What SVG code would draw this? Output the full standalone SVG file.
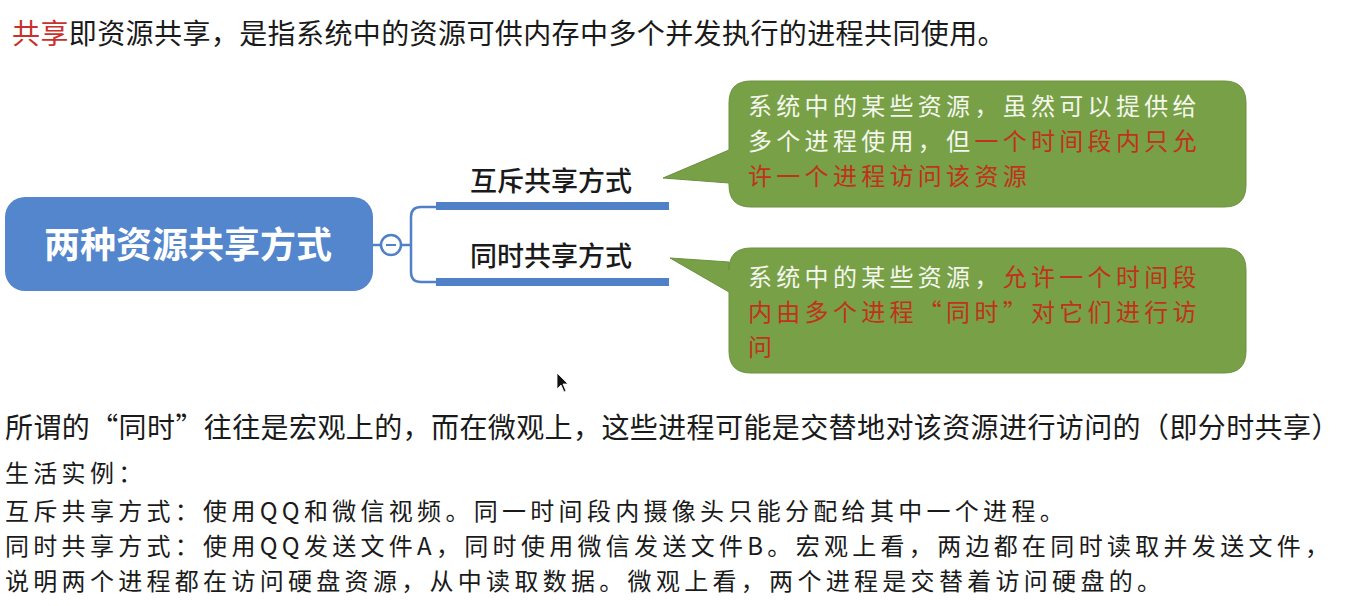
<svg xmlns="http://www.w3.org/2000/svg" width="1347" height="606" viewBox="0 0 1347 606">
  <style>
    .t { font-family: "Noto Sans CJK SC", "Noto Sans", sans-serif; fill: #1a1a1a; }
    .big { font-size: 28px; letter-spacing: 0.4px; }
    .body { font-size: 24px; letter-spacing: 4.3px; }
    .red { fill: #c8312b; }
    .cw { fill: #f4f7ee; }
    .cr { fill: #c0321c; }
    .callout { fill: #78a046; stroke: #6a9040; stroke-width: 1; }
    .bar { fill: #4f80c8; }
    .thin { fill: none; stroke: #4f80c8; stroke-width: 2.5; }
  </style>
  <rect width="1347" height="606" fill="#ffffff"/>

  <g id="intro">
    <text class="t big" x="12" y="44"><tspan class="red">共享</tspan>即资源共享，是指系统中的资源可供内存中多个并发执行的进程共同使用。</text>
  </g>

  <g id="connectors">
    <line class="thin" x1="373" y1="245" x2="381" y2="245"/>
    <line class="thin" x1="401" y1="245" x2="411" y2="245"/>
    <path class="thin" d="M436 207 H421 Q411 207 411 217 V272 Q411 282 421 282 H436"/>
    <rect class="bar" x="436" y="202" width="233" height="8"/>
    <rect class="bar" x="436" y="278" width="233" height="8"/>
  </g>

  <g id="root">
    <rect x="5" y="197" width="368" height="94" rx="20" fill="#5386cc"/>
    <text class="t" x="188" y="258" font-size="36" font-weight="bold" text-anchor="middle" style="fill:#ffffff">两种资源共享方式</text>
  </g>

  <g id="collapse">
    <circle cx="391" cy="245" r="10" fill="#ffffff" stroke="#4f80c8" stroke-width="2.5"/>
    <line x1="386" y1="245" x2="396" y2="245" stroke="#4f80c8" stroke-width="2"/>
  </g>

  <g id="branch-mutex">
    <text class="t" x="551" y="191" font-size="27" text-anchor="middle" font-weight="500">互斥共享方式</text>
  </g>

  <g id="branch-simul">
    <text class="t" x="551" y="266" font-size="27" text-anchor="middle" font-weight="500">同时共享方式</text>
  </g>

  <g id="callout-mutex">
    <path class="callout" d="M751 81 H1224 Q1246 81 1246 103 V185 Q1246 207 1224 207 H751 Q729 207 729 185 V183 L663 178 L729 150 V103 Q729 81 751 81 Z"/>
    <text class="t body cw" x="748" y="115">系统中的某些资源，虽然可以提供给</text>
    <text class="t body cw" x="748" y="150">多个进程使用，但<tspan class="cr">一个时间段内只允</tspan></text>
    <text class="t body cr" x="748" y="185">许一个进程访问该资源</text>
  </g>

  <g id="callout-simul">
    <path class="callout" d="M751 248 H1224 Q1246 248 1246 270 V351 Q1246 373 1224 373 H751 Q729 373 729 351 V292 L670 258 L729 262 V270 Q729 248 751 248 Z"/>
    <text class="t body cw" x="748" y="286">系统中的某些资源，<tspan class="cr">允许一个时间段</tspan></text>
    <text class="t body cr" x="748" y="321">内由多个进程“同时”对它们进行访</text>
    <text class="t body cr" x="748" y="356">问</text>
  </g>

  <g id="cursor">
    <path d="M557 373 L557 389 L561 385 L564 392 L566 391 L563 384 L568 384 Z" fill="#111111" stroke="#ffffff" stroke-width="0.8"/>
  </g>

  <g id="notes">
    <text class="t big" x="5" y="438">所谓的“同时”往往是宏观上的，而在微观上，这些进程可能是交替地对该资源进行访问的（即分时共享）</text>
    <text class="t body" x="5" y="482">生活实例：</text>
    <text class="t body" x="5" y="520">互斥共享方式：使用QQ和微信视频。同一时间段内摄像头只能分配给其中一个进程。</text>
    <text class="t body" x="5" y="555">同时共享方式：使用QQ发送文件A，同时使用微信发送文件B。宏观上看，两边都在同时读取并发送文件，</text>
    <text class="t body" x="5" y="590">说明两个进程都在访问硬盘资源，从中读取数据。微观上看，两个进程是交替着访问硬盘的。</text>
  </g>
</svg>
